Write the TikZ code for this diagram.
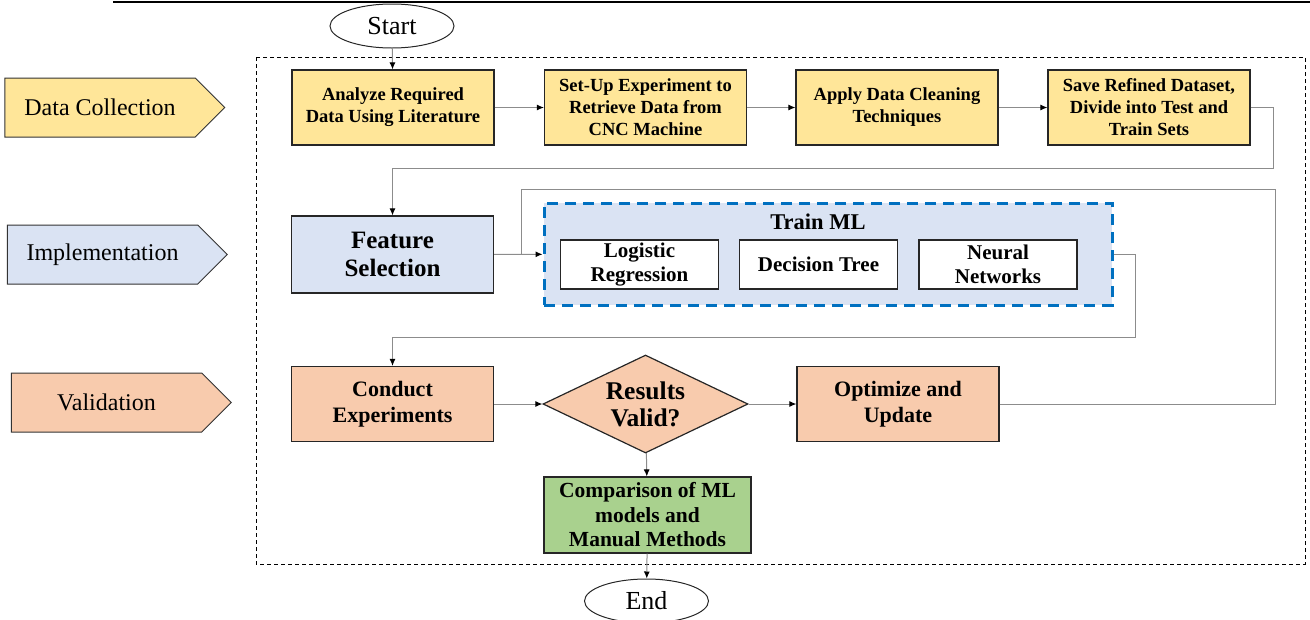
\documentclass[tikz,border=0pt]{standalone}
\usepackage{fontspec}
\setmainfont{Liberation Serif}
\usepackage{tikz}
\usetikzlibrary{shapes,arrows.meta,positioning}
\definecolor{dcyellow}{HTML}{FFE699}
\definecolor{imblue}{HTML}{DAE3F3}
\definecolor{vapeach}{HTML}{F8CBAD}
\definecolor{cmgreen}{HTML}{A9D18E}
\definecolor{mlblue}{HTML}{0070C0}
\definecolor{linegray}{HTML}{8C8C8C}
\tikzset{box/.style={rectangle,draw=black!85,line width=1.2pt,minimum width=202pt,minimum height=75pt,align=center,inner sep=1pt,font=\bfseries\fontsize{18.5}{22}\selectfont}}
\tikzset{bigbox/.style={box,font=\bfseries\fontsize{22}{26}\selectfont}}
\tikzset{mlbox/.style={rectangle,draw=black!85,fill=white,line width=1.2pt,minimum width=158pt,minimum height=49pt,align=center,inner sep=1pt,font=\bfseries\fontsize{21}{24}\selectfont}}
\tikzset{phase/.style={signal,signal to=east,draw=black!80,line width=1pt,minimum width=220pt,minimum height=59pt,inner sep=2pt,font=\fontsize{24}{28}\selectfont}}
\tikzset{term/.style={ellipse,draw=black!85,line width=1pt,minimum width=124pt,minimum height=44pt,inner sep=0pt,font=\fontsize{26}{30}\selectfont}}
\tikzset{link/.style={draw=linegray,line width=1pt,-{Latex[length=7pt,width=6pt,color=black]}}}

\begin{document}
\begin{tikzpicture}[x=1pt,y=-1pt]
    \useasboundingbox (0,0) rectangle (1310,619);
    \draw [line width=2pt] (113,2) -- (1310,2);
    \draw [line width=0.8pt,dash pattern=on 4pt off 3pt] (256,57) rectangle (1305,564);

    % phases
    \node[phase,fill=dcyellow] (datac) at (100,107.5) {Data Collection};
    \node[phase,fill=imblue] (impl) at (102.5,254.5) {Implementation};
    \node[phase,fill=vapeach] (valid) at (106.5,402.5) {Validation};

    \node[term] (start) at (392,26) {Start};
    \node[term] (end) at (646.5,601) {End};

    % data collection
    \node[box,fill=dcyellow] (analyze) at (393,107.5) {Analyze Required\\Data Using Literature};
    \node[box,fill=dcyellow] (setup) at (645.5,107.5) {Set-Up Experiment to\\Retrieve Data from\\CNC Machine};
    \node[box,fill=dcyellow] (clean) at (897,107.5) {Apply Data Cleaning\\Techniques};
    \node[box,fill=dcyellow] (save) at (1149,107.5) {Save Refined Dataset,\\Divide into Test and\\Train Sets};

    % implementation
    \node[box,fill=imblue,minimum height=77pt,font=\bfseries\fontsize{25}{28}\selectfont] (feature) at (392.5,254.5) {Feature\\Selection};
    \node[rectangle,draw=mlblue,fill=imblue,line width=3pt,dash pattern=on 11pt off 7pt,minimum width=568pt,minimum height=102pt] (train) at (828,254) {};
    \node[font=\bfseries\fontsize{22.5}{26}\selectfont] (trainlbl) at (818,222) {Train ML};
    \node[mlbox] (logit) at (639.5,264.5) {Logistic\\Regression};
    \node[mlbox] (dtree) at (818.5,264.5) {Decision Tree};
    \node[mlbox] (neural) at (998,264.5) {Neural\\Networks};

    % validation
    \node[bigbox,fill=vapeach] (conduct) at (392.5,404) {Conduct\\Experiments};
    \node[diamond,draw=black!85,fill=vapeach,line width=1.2pt,aspect=2.1,minimum width=205pt,minimum height=98pt,inner sep=0pt,align=center,font=\bfseries\fontsize{25.5}{27}\selectfont] (check) at (645.5,404) {Results\\Valid?};
    \node[bigbox,fill=vapeach] (optimize) at (898,404) {Optimize and\\Update};
    \node[box,fill=cmgreen,minimum width=207pt,minimum height=76pt,font=\bfseries\fontsize{21.5}{24.5}\selectfont] (compare) at (647.5,515) {Comparison of ML\\models and\\Manual Methods};

    \coordinate (c1) at (1273,168);
    \coordinate (c2) at (1275,189);
    \coordinate (c3) at (521,254);
    \coordinate (c4) at (1135,337);

    \draw [link] (start) -- (analyze);
    \draw [link] (analyze) -- (setup);
    \draw [link] (setup) -- (clean);
    \draw [link] (clean) -- (save);
    \draw [link] (save.east) -| (c1) -| (feature.north);
    \draw [link] (feature) -- (train);
    \draw [draw=linegray,line width=1pt] (optimize.east) -| (c2) -| (c3);
    \draw [link] (train.east) -| (c4) -| (conduct.north);
    \draw [link] (conduct) -- (check);
    \draw [link] (check) -- (optimize);
    \draw [link] (check) -- (compare);
    \draw [link] (compare) -- (end);
\end{tikzpicture}
\end{document}
